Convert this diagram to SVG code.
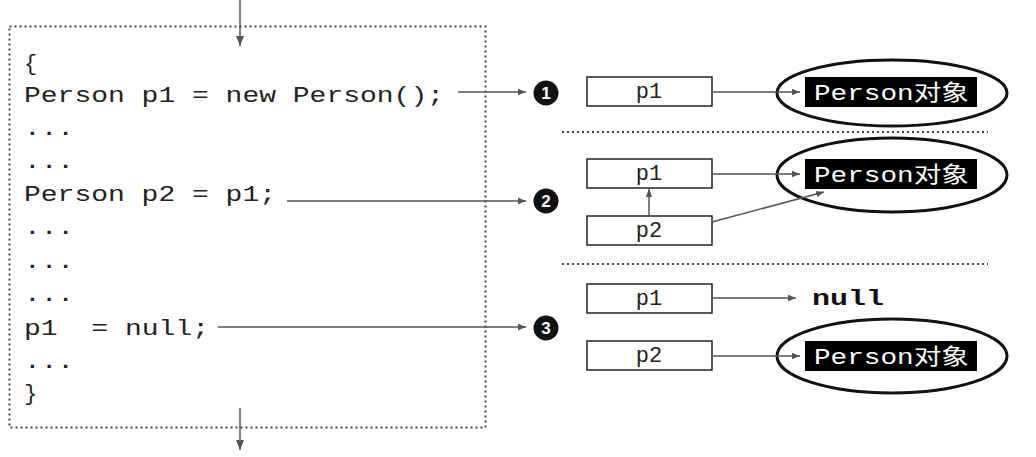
<svg xmlns="http://www.w3.org/2000/svg" width="1036" height="457" viewBox="0 0 1036 457">
<style>
.code{font-family:"Courier New","Nimbus Mono PS","FreeMono","Liberation Mono",monospace;font-size:22px;fill:#222}
.lbl{font-family:"Courier New","Nimbus Mono PS","FreeMono","Liberation Mono",monospace;font-size:22px;fill:#222;text-anchor:middle}
.obj{font-family:"Courier New","Nimbus Mono PS","Liberation Mono","Noto Sans CJK SC",monospace;font-size:22px;fill:#fff}
.num{font-family:"Liberation Sans",Arial,sans-serif;font-size:17px;font-weight:bold;fill:#fff;text-anchor:middle}
.box{fill:#fff;stroke:#222;stroke-width:1.5}
.dot{fill:none;stroke:#444;stroke-width:2;stroke-dasharray:2 3}
.con{fill:none;stroke:#555;stroke-width:1.5;marker-end:url(#ah)}
.ell{fill:none;stroke:#111;stroke-width:3}
</style>
<defs>
<marker id="ah" viewBox="0 0 10 10" refX="10" refY="5" markerWidth="8" markerHeight="8" markerUnits="userSpaceOnUse" orient="auto">
<path d="M0,1 L10,5 L0,9 z" fill="#555"/>
</marker>
<marker id="ah2" viewBox="0 0 10 10" refX="10" refY="5" markerWidth="10" markerHeight="10" markerUnits="userSpaceOnUse" orient="auto">
<path d="M0,1 L10,5 L0,9 z" fill="#555"/>
</marker>
</defs>
<rect width="1036" height="457" fill="#fff"/>

<g id="code-block">
<rect class="dot" x="9.5" y="26.5" width="476" height="401"/>
<text class="code" x="24" y="70">{</text>
<text class="code" x="24" y="102" textLength="420" lengthAdjust="spacingAndGlyphs">Person p1 = new Person();</text>
<text class="code" x="24" y="135" textLength="50" lengthAdjust="spacingAndGlyphs">...</text>
<text class="code" x="24" y="168" textLength="50" lengthAdjust="spacingAndGlyphs">...</text>
<text class="code" x="24" y="201" textLength="252" lengthAdjust="spacingAndGlyphs">Person p2 = p1;</text>
<text class="code" x="24" y="234" textLength="50" lengthAdjust="spacingAndGlyphs">...</text>
<text class="code" x="24" y="268" textLength="50" lengthAdjust="spacingAndGlyphs">...</text>
<text class="code" x="24" y="301" textLength="50" lengthAdjust="spacingAndGlyphs">...</text>
<text class="code" x="24" y="335" xml:space="preserve" textLength="185" lengthAdjust="spacingAndGlyphs">p1  = null;</text>
<text class="code" x="24" y="368" textLength="50" lengthAdjust="spacingAndGlyphs">...</text>
<text class="code" x="24" y="400">}</text>
</g>

<g id="step1">
<circle cx="546" cy="93" r="12.5" fill="#111"/>
<text class="num" x="546" y="99">1</text>
</g>
<g id="step2">
<circle cx="546" cy="201" r="12.5" fill="#111"/>
<text class="num" x="546" y="207">2</text>
</g>
<g id="step3">
<circle cx="546" cy="328" r="12.5" fill="#111"/>
<text class="num" x="546" y="334">3</text>
</g>

<g id="row1-p1"><rect class="box" x="587" y="77" width="125" height="29"/><text class="lbl" x="649" y="98">p1</text></g>
<g id="row1-obj">
<ellipse class="ell" cx="892" cy="93" rx="115" ry="33"/>
<rect x="805" y="77" width="172" height="30" fill="#000"/>
<text class="obj" x="814" y="100" textLength="155" lengthAdjust="spacingAndGlyphs">Person对象</text>
</g>

<line class="dot" x1="562" y1="132" x2="988" y2="132"/>

<g id="row2-p1"><rect class="box" x="587" y="159" width="125" height="29"/><text class="lbl" x="649" y="180">p1</text></g>
<g id="row2-p2"><rect class="box" x="587" y="216" width="125" height="29"/><text class="lbl" x="649" y="237">p2</text></g>
<g id="row2-obj">
<ellipse class="ell" cx="892" cy="175" rx="115" ry="37"/>
<rect x="805" y="159" width="172" height="30" fill="#000"/>
<text class="obj" x="814" y="182" textLength="155" lengthAdjust="spacingAndGlyphs">Person对象</text>
</g>

<line class="dot" x1="562" y1="264" x2="988" y2="264"/>

<g id="row3-p1"><rect class="box" x="587" y="284" width="125" height="29"/><text class="lbl" x="649" y="305">p1</text></g>
<g id="row3-null"><text x="812" y="305" font-family="Courier New, Nimbus Mono PS, Liberation Mono, monospace" font-size="22" font-weight="bold" fill="#111" textLength="72" lengthAdjust="spacingAndGlyphs">null</text></g>
<g id="row3-p2"><rect class="box" x="587" y="341" width="125" height="29"/><text class="lbl" x="649" y="362">p2</text></g>
<g id="row3-obj">
<ellipse class="ell" cx="892" cy="356" rx="115" ry="37"/>
<rect x="805" y="341" width="172" height="30" fill="#000"/>
<text class="obj" x="814" y="364" textLength="155" lengthAdjust="spacingAndGlyphs">Person对象</text>
</g>

<g id="connectors">
<line class="con" x1="240" y1="0" x2="240" y2="46" style="marker-end:url(#ah2)"/>
<line class="con" x1="240" y1="408" x2="240" y2="450" style="marker-end:url(#ah2)"/>
<line class="con" x1="458" y1="92" x2="526" y2="92"/>
<line class="con" x1="287" y1="201" x2="526" y2="201"/>
<line class="con" x1="218" y1="327" x2="526" y2="327"/>
<line class="con" x1="712" y1="92" x2="800" y2="92"/>
<line class="con" x1="712" y1="174" x2="800" y2="174"/>
<line class="con" x1="649" y1="216" x2="649" y2="189"/>
<line class="con" x1="712" y1="222" x2="824" y2="192"/>
<line class="con" x1="712" y1="298" x2="796" y2="298"/>
<line class="con" x1="712" y1="356" x2="800" y2="356"/>
</g>
</svg>
